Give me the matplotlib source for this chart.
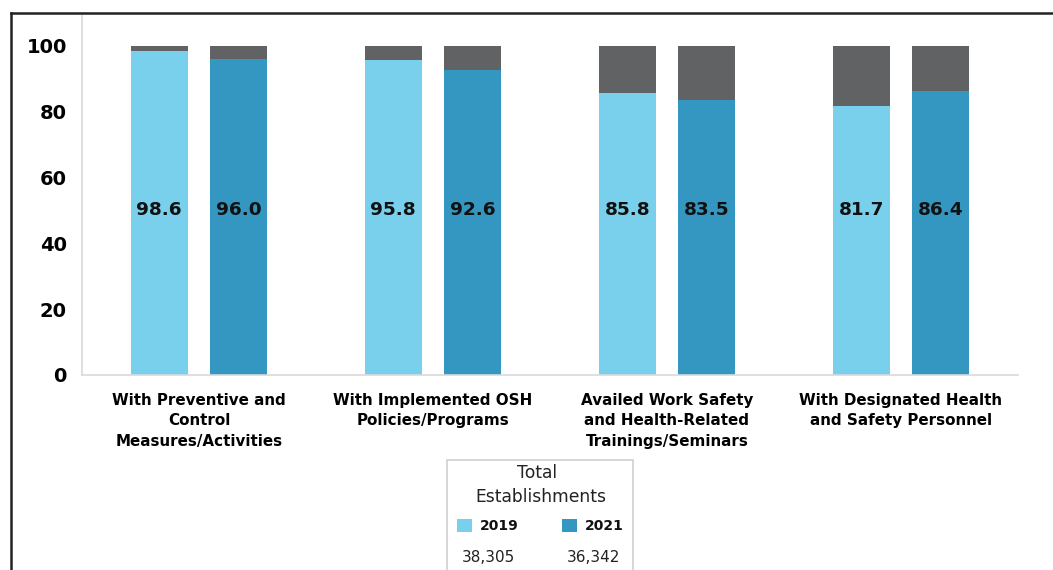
import matplotlib
matplotlib.use("Agg")
import matplotlib.pyplot as plt
from matplotlib.patches import Rectangle
from matplotlib.lines import Line2D
import numpy as np

categories = ["With Preventive and\nControl\nMeasures/Activities",
              "With Implemented OSH\nPolicies/Programs",
              "Availed Work Safety\nand Health-Related\nTrainings/Seminars",
              "With Designated Health\nand Safety Personnel"]
years = ["2019", "2021"]
values_2019 = [98.6, 95.8, 85.8, 81.7]
values_2021 = [96.0, 92.6, 83.5, 86.4]
totals = ["38,305", "36,342"]
yticks = [0, 20, 40, 60, 80, 100]

c2019 = "#78D0EC"
c2021 = "#3497C2"
cgray = "#616264"

plt.rcParams['font.family'] = ['DejaVu Sans']
W, H = 1053, 570
fig = plt.figure(figsize=(W/100, H/100), dpi=100)
ax = fig.add_axes([82/W, 1-375/H, (1018-82)/W, (375-13)/H])

x = np.arange(len(categories))
off = 0.17
bw = 0.245
for vals, sgn, col in [(values_2019, -1, c2019), (values_2021, 1, c2021)]:
    vals = np.array(vals)
    ax.bar(x + sgn*off, vals, width=bw, color=col, edgecolor='none')
    ax.bar(x + sgn*off, 100 - vals, bottom=vals, width=bw, color=cgray, edgecolor='none')
    for xi, v in zip(x + sgn*off, vals):
        ax.text(xi, 50, f"{v:.1f}", ha='center', va='center', fontsize=13.3,
                fontweight='bold', color='#111111')

ax.set_xlim(-0.5, 3.5)
ax.set_ylim(0, 110)
ax.set_yticks(yticks)
ax.set_yticklabels([str(t) for t in yticks], fontsize=14, fontweight='bold')
ax.tick_params(axis='y', length=0, pad=11)
ax.set_xticks(x)
ax.set_xticklabels(categories, fontsize=10.9, fontweight='bold', linespacing=1.45)
ax.tick_params(axis='x', length=0, pad=13)
for s in ['top', 'right']:
    ax.spines[s].set_visible(False)
for s in ['left', 'bottom']:
    ax.spines[s].set_color('#d9d9d9')
    ax.spines[s].set_linewidth(1.2)

# outer frame
fig.add_artist(Line2D([11/W, 1], [1-13/H, 1-13/H], transform=fig.transFigure, color='#222222', lw=1.8))
fig.add_artist(Line2D([11/W, 11/W], [1-13/H, 0], transform=fig.transFigure, color='#222222', lw=1.8))

# legend box
fig.add_artist(Rectangle((447/W, -0.05), (633-447)/W, (570-460)/H + 0.05, transform=fig.transFigure,
                         facecolor='white', edgecolor='#d0d0d0', lw=1.2, clip_on=False))
fig.text(537/W, 1-473/H, "Total", ha='center', va='center', fontsize=12.3, color='#222222')
fig.text(541/W, 1-497/H, "Establishments", ha='center', va='center', fontsize=12.3, color='#222222')
for (px, tx, nx), col, yr, tot in zip([(457, 480, 488), (562, 585, 593)], [c2019, c2021], years, totals):
    fig.add_artist(Rectangle((px/W, 1-532/H), 15/W, 13/H, transform=fig.transFigure,
                             facecolor=col, edgecolor='none'))
    fig.text(tx/W, 1-526/H, yr, ha='left', va='center', fontsize=10, fontweight='bold', color='#111111')
    fig.text(nx/W, 1-558/H, tot, ha='center', va='center', fontsize=11, color='#222222')

fig.savefig("out.png", dpi=100)
